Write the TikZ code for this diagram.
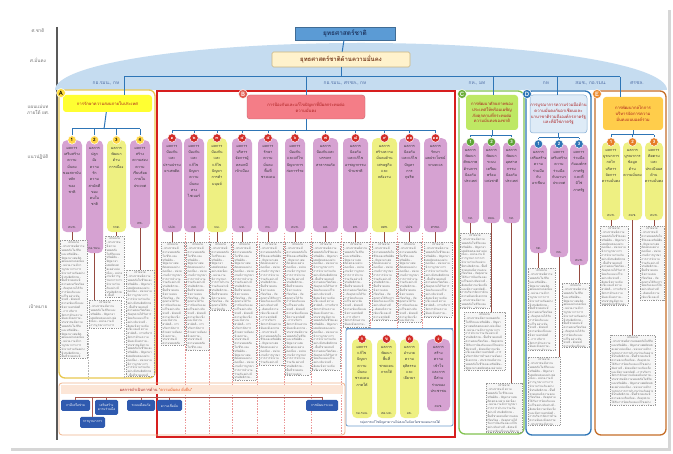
\documentclass[tikz,border=0pt]{standalone}
\usepackage{fontspec}
\newfontfamily\thai[Script=Thai]{Loma}
\XeTeXlinebreaklocale "th"
\XeTeXlinebreakskip=0pt plus 0.5pt
\usetikzlibrary{calc}
\definecolor{pinkc}{RGB}{214,162,210}
\definecolor{yelc}{RGB}{238,240,130}
\definecolor{lineblue}{RGB}{46,117,182}
\definecolor{domeblue}{RGB}{197,220,240}
\definecolor{topblue}{RGB}{91,155,213}
\definecolor{titlec}{RGB}{31,56,100}
\definecolor{creamc}{RGB}{255,242,204}
\definecolor{creamd}{RGB}{200,180,130}
\definecolor{sectxt}{RGB}{120,60,30}
\definecolor{Abord}{RGB}{232,200,80}
\definecolor{Ahead}{RGB}{255,255,50}
\definecolor{Bred}{RGB}{215,30,30}
\definecolor{Bhead}{RGB}{244,125,135}
\definecolor{Cgreen}{RGB}{130,195,80}
\definecolor{Chead}{RGB}{190,232,100}
\definecolor{Dblue}{RGB}{46,117,182}
\definecolor{Dhead}{RGB}{222,235,247}
\definecolor{Eorange}{RGB}{197,110,40}
\definecolor{Ehead}{RGB}{255,205,75}
\definecolor{labA}{RGB}{255,220,60}
\definecolor{labB}{RGB}{225,90,80}
\definecolor{labC}{RGB}{110,175,60}
\definecolor{labD}{RGB}{46,117,182}
\definecolor{labE}{RGB}{235,140,50}
\definecolor{numA}{RGB}{255,215,70}
\definecolor{numB}{RGB}{210,45,40}
\definecolor{numC}{RGB}{95,165,55}
\definecolor{numD}{RGB}{46,117,182}
\definecolor{numE}{RGB}{230,125,40}
\definecolor{hdrtxt}{RGB}{170,30,30}
\definecolor{tgtfill}{RGB}{246,246,246}
\definecolor{tlc}{RGB}{150,75,65}
\definecolor{sepred}{RGB}{235,150,150}
\definecolor{dlabc}{RGB}{80,110,165}
\definecolor{bandc}{RGB}{240,180,140}
\definecolor{bandf}{RGB}{252,230,215}
\definecolor{bandq}{RGB}{230,80,20}
\definecolor{navyc}{RGB}{47,90,175}
\definecolor{bandl}{RGB}{170,90,80}
\newcommand{\thfiller}{- ประชาชนมีความปลอดภัยในชีวิตและทรัพย์สิน - ปัญหายาเสพติดลดลงอย่างต่อเนื่อง - หน่วยงานมีการบูรณาการการทำงานร่วมกันอย่างมีประสิทธิภาพ - พื้นที่ชายแดนมีความสงบเรียบร้อย - ภัยคุกคามได้รับการป้องกันและแก้ไขอย่างทันท่วงที - สังคมมีความเข้มแข็งและมีความสามัคคี - การบริหารจัดการด้านความมั่นคงมีเอกภาพ }
% generic box by corners: name,x1,y1,x2,y2,style,text
\newcommand{\mybx}[7]{\pgfmathsetmacro\mbw{#4-#2}\pgfmathsetmacro\mbh{#5-#3}\pgfmathsetmacro\mbx{(#2+#4)/2}\pgfmathsetmacro\mby{(#3+#5)/2}%
\node[#6, minimum width=\mbw pt, minimum height=\mbh pt] (#1) at (\mbx,\mby) {#7};}
% target box
\newcommand{\mytbx}[5]{\mybx{#1}{#2}{#3}{#4}{#5}{tgt}{}%
\pgfmathsetmacro\mtw{#4-#2-3}%
\begin{scope}\clip (#2,#3) rectangle (#4,#5);
\node[tgttxt, text width=\mtw pt, anchor=north] (#1t) at ([yshift=-1.5pt]#1.north) {\centering เป้าหมาย\par\raggedright\thfiller\thfiller\thfiller\thfiller};
\end{scope}}
% pill column: name,x1,x2,ytop,ybot,fill,num,text,agency
\newcommand{\mypill}[9]{\pgfmathsetmacro\mpw{#3-#2}\pgfmathsetmacro\mph{#5-#4}\pgfmathsetmacro\mpx{(#2+#3)/2}%
\node[pill, fill=#6, minimum width=\mpw pt, minimum height=\mph pt, anchor=north] (#1) at (\mpx,#4) {};
\node[ptxt, anchor=north] (#1t) at ([yshift=-7pt]#1.north) {#8};
\node[agtxt, anchor=south] (#1a) at ([yshift=4pt]#1.south) {#9};
\node[numc, fill=\ccol, text=\ctcol] (#1c) at (#1.north) {#7};}
\newcommand{\mylk}[2]{\draw[tline] (#1.south) -- (#1.south |- #2.north);}
\begin{document}
\begin{tikzpicture}[x=1pt,y=-1pt,
 every node/.style={font=\thai},
 conn/.style={draw=lineblue, line width=1pt},
 tline/.style={draw=tlc, line width=0.9pt},
 sep/.style={draw=sepred, dash pattern=on 1.5pt off 1.2pt, line width=0.5pt},
 pill/.style={rounded corners=5pt, inner sep=0pt},
 ptxt/.style={align=center, inner sep=0pt, text=black!80, font=\thai\fontsize{3.7}{6.3}\selectfont},
 agtxt/.style={align=center, inner sep=0pt, text=black!75, font=\thai\fontsize{3.4}{4}\selectfont},
 numc/.style={circle, inner sep=0pt, minimum size=8.5pt, draw=white, line width=0.5pt, font=\thai\fontsize{4.5}{5}\selectfont\bfseries},
 glab/.style={circle, inner sep=0pt, minimum size=9pt, draw=white, line width=0.5pt, font=\thai\fontsize{6}{6}\selectfont\bfseries},
 grp/.style={rounded corners=6pt, fill=white, line width=1.3pt},
 hdr/.style={rounded corners=3pt, align=center, inner sep=0pt, text=hdrtxt, font=\thai\fontsize{4.2}{5.8}\selectfont},
 tgt/.style={draw=black!40, dash pattern=on 1pt off 0.8pt, line width=0.35pt, fill=tgtfill, inner sep=0pt},
 tgttxt/.style={inner sep=0pt, text=black!60, font=\thai\fontsize{2.8}{3.8}\selectfont},
 lab/.style={text=black!55, align=center, font=\thai\fontsize{4.6}{6}\selectfont},
 dlab/.style={text=dlabc, font=\thai\fontsize{4.8}{6}\selectfont},
 navy/.style={fill=navyc, rounded corners=1.5pt, text=white, align=center, inner sep=0pt, font=\thai\fontsize{3.2}{4.2}\selectfont},
]
\useasboundingbox (0,0) rectangle (673,454);
\fill[white] (0,0) rectangle (673,454);
\fill[black!16] (11,10) rectangle (671,451);
\fill[white] (9,8) rectangle (668,448);
% axis and level labels
\coordinate (ax1) at (57,27); \coordinate (ax2) at (57,440);
\draw[draw=black!65, line width=1.3pt] (ax1) -- (ax2);
\node[lab] (l1) at (38,31) {ศ.ชาติ};
\node[lab] (l2) at (38,60) {ศ.มั่นคง};
\node[lab] (l3) at (38,110) {แผนแม่บท\\ภายใต้ ยศ.};
\node[lab] (l4) at (38,157) {แนวปฏิบัติ};
\node[lab] (l5) at (38,307) {เป้าหมาย};
% dome
\fill[domeblue] (55,90) arc[start angle=180, end angle=0, x radius=306pt, y radius=47pt] -- cycle;
% top boxes
\mybx{ns}{295}{27}{395}{40}{fill=topblue, draw=topblue!70!black, line width=0.5pt, text=titlec, inner sep=0pt, font=\thai\fontsize{6.5}{7}\selectfont\bfseries}{ยุทธศาสตร์ชาติ}
\mybx{sec}{272}{52}{410}{67}{fill=creamc, draw=creamd, line width=0.6pt, rounded corners=1.5pt, text=sectxt, inner sep=0pt, font=\thai\fontsize{6}{7}\selectfont\bfseries}{ยุทธศาสตร์ชาติด้านความมั่นคง}
\coordinate (jL) at (124,77); \coordinate (jR) at (620,77);
\coordinate (jB) at (306,77); \coordinate (jC) at (493,77); \coordinate (jD) at (557,77);
\draw[conn] (ns) -- (sec);
\draw[conn] (sec) -- (sec |- jL);
\draw[conn] (jL) -- (jR);
% dome labels
\node[dlab] (dA) at (106,83) {กอ.รมน., กห};
\node[dlab] (dB) at (345,83) {กอ.รมน., ศรชล., กห};
\node[dlab] (dC) at (477,83) {กห., มท};
\node[dlab] (dD) at (546,83) {กห};
\node[dlab] (dE1) at (591,83) {สมช., กอ.รมน.};
\node[dlab] (dE2) at (637,83) {ศรชล.};
% group frames
\mybx{Ag}{59}{90}{155}{378}{grp, draw=Abord}{}
\mybx{Bg}{157}{91}{455}{437}{draw=Bred, line width=1.8pt, fill=white}{}
\mybx{Cg}{459}{91}{524}{434}{grp, draw=Cgreen}{}
\mybx{Dg}{526}{91}{591}{435}{grp, draw=Dblue}{}
\mybx{Eg}{595}{91}{666}{435}{grp, draw=Eorange}{}
% headers
\mybx{Ahd}{63}{95}{152}{112}{hdr, fill=Ahead}{การรักษาความสงบภายในประเทศ}
\mybx{Bhd}{247}{95}{365}{119}{hdr, fill=Bhead, draw=Bhead!80!black, line width=0.4pt}{การป้องกันและแก้ไขปัญหาที่มีผลกระทบต่อ\\ความมั่นคง}
\mybx{Chd}{466}{95}{518}{130}{hdr, fill=Chead}{การพัฒนาศักยภาพของ\\ประเทศให้พร้อมเผชิญ\\ภัยคุกคามที่กระทบต่อ\\ความมั่นคงของชาติ}
\mybx{Dhd}{530}{95}{587}{133}{hdr, fill=Dhead, draw=Dblue!60, line width=0.5pt}{การบูรณาการความร่วมมือด้าน\\ความมั่นคงกับอาเซียนและ\\นานาชาติรวมถึงองค์กรภาครัฐ\\และที่มิใช่ภาครัฐ}
\mybx{Ehd}{603}{97}{663}{130}{hdr, fill=Ehead}{การพัฒนากลไกการ\\บริหารจัดการความ\\มั่นคงแบบองค์รวม}
% drops from the top line
\draw[conn] (jL) -- (jL |- Ahd.north);
\draw[conn] (jB) -- (jB |- Bhd.north);
\draw[conn] (jC) -- (jC |- Chd.north);
\draw[conn] (jD) -- (jD |- Dhd.north);
\draw[conn] (jR) -- (jR |- Ehd.north);
% group labels
\node[glab, fill=labA, text=black] (LA) at (61,93) {A};
\node[glab, fill=labB, text=white] (LB) at (243,94) {B};
\node[glab, fill=labC, text=white] (LC) at (462,94) {C};
\node[glab, fill=labD, text=white] (LD) at (527,94) {D};
\node[glab, fill=labE, text=white] (LE) at (597,94) {E};
% ---------- A columns
\def\ccol{numA}\def\ctcol{black}
\mypill{A1}{62}{82}{140}{232}{pinkc}{1}{ผลการ\\เสริมสร้าง\\ความ\\มั่นคง\\ของสถาบัน\\หลัก\\ของ\\ชาติ}{สมช.}
\mypill{A2}{86}{103}{140}{253}{pinkc}{2}{ผลการ\\ปลูก\\ฝัง\\ความ\\รัก\\ความ\\สามัคคี\\ของ\\คนใน\\ชาติ}{กอ.รมน.}
\mypill{A3}{107}{126}{140}{232}{yelc}{3}{ผลการ\\พัฒนา\\ด้าน\\การเมือง}{กกต.}
\mypill{A4}{130}{150}{140}{228}{pinkc}{4}{ผลการ\\สร้าง\\ความสงบ\\ความ\\เรียบร้อย\\ภายใน\\ประเทศ}{ตช.}
\coordinate (Ajy) at (104,129);
\draw[conn] (Ahd) -- (Ajy);
\draw[conn] (A1c |- Ajy) -- (A4c |- Ajy);
\foreach \n in {1,...,4} \draw[conn] (A\n c |- Ajy) -- (A\n c.north);
% ---------- B columns
\def\ccol{numB}\def\ctcol{white}
\mypill{B1}{162}{182}{138}{232}{pinkc}{๑}{ผลการ\\ป้องกัน\\และ\\ปราบปราม\\ยาเสพติด}{ปปส.}
\mypill{B2}{184}{204}{138}{232}{pinkc}{๒}{ผลการ\\ป้องกัน\\และ\\แก้ไข\\ปัญหา\\ความ\\มั่นคง\\ทาง\\ไซเบอร์}{ดศ.}
\mypill{B3}{207}{227}{138}{232}{yelc}{๓}{ผลการ\\ป้องกัน\\และ\\แก้ไข\\ปัญหา\\การค้า\\มนุษย์}{พม.}
\mypill{B4}{232}{252}{138}{232}{pinkc}{๔}{ผลการ\\บริหาร\\จัดการผู้\\หลบหนี\\เข้าเมือง}{มท.}
\mypill{B5}{258}{278}{138}{232}{pinkc}{๕}{ผลการ\\รักษา\\ความ\\มั่นคง\\พื้นที่\\ชายแดน}{กห.}
\mypill{B6}{285}{305}{138}{232}{pinkc}{๖}{ผลการ\\ป้องกัน\\และแก้ไข\\ปัญหาการ\\ก่อการร้าย}{สมช.}
\mypill{B7}{313}{338}{138}{232}{pinkc}{๗}{ผลการ\\ป้องกันและ\\บรรเทา\\สาธารณภัย}{มท.}
\mypill{B8}{343}{368}{138}{232}{pinkc}{๘}{ผลการ\\ป้องกัน\\และแก้ไข\\อาชญากรรม\\ข้ามชาติ}{ตช.}
\mypill{B9}{372}{397}{138}{232}{yelc}{๙}{ผลการ\\สร้างความ\\มั่นคงด้าน\\เศรษฐกิจ\\และ\\พลังงาน}{สศช.}
\mypill{B10}{399}{420}{138}{232}{pinkc}{๑๐}{ผลการ\\ป้องกัน\\และแก้ไข\\ปัญหา\\การ\\ทุจริต}{ปปช.}
\mypill{B11}{424}{447}{138}{232}{pinkc}{๑๑}{ผลการ\\รักษา\\ผลประโยชน์\\ทางทะเล}{ศรชล.}
\coordinate (Bjy) at (306,131);
\draw[conn] (Bhd) -- (Bjy);
\draw[conn] (B1c |- Bjy) -- (B11c |- Bjy);
\foreach \n in {1,...,11} \draw[conn] (B\n c |- Bjy) -- (B\n c.north);
% B separators
\coordinate (sLow) at (0,435); \coordinate (sMid) at (0,329);
\foreach \sx in {185,209.5,232,257.5,284,311,341.5} {\coordinate (s1) at (\sx,233); \draw[sep] (s1) -- (s1 |- sLow);}
\foreach \sx in {370.5,397,422.5} {\coordinate (s2) at (\sx,233); \draw[sep] (s2) -- (s2 |- sMid);}
% A separators
\coordinate (as1) at (88,330); \coordinate (as2) at (124.5,298);
\draw[draw=black!30, dash pattern=on 1.5pt off 1.2pt, line width=0.4pt] (as1) -- (as1 |- Ag.south);
\draw[draw=black!30, dash pattern=on 1.5pt off 1.2pt, line width=0.4pt] (as2) -- (as2 |- Ag.south);
% B sub-box
\mybx{Bs}{346}{329}{453}{426}{draw=Dblue!70, line width=0.8pt, rounded corners=2pt, fill=white}{}
\draw[draw=Dblue!70, line width=1.6pt] (Bs.north west) -- (Bs.north east);
\mypill{S1}{352}{372}{339}{418}{yelc}{ก}{ผลการ\\แก้ไข\\ปัญหา\\ความ\\มั่นคง\\ชายแดน\\ภาคใต้}{กอ.รมน.}
\mypill{S2}{377}{396}{339}{418}{yelc}{ข}{ผลการ\\พัฒนา\\พื้นที่\\ชายแดน\\ภาคใต้}{ศอ.บต.}
\mypill{S3}{400}{419}{339}{418}{yelc}{ค}{ผลการ\\อำนวย\\ความ\\ยุติธรรม\\และ\\เยียวยา}{ยธ.}
\mypill{S4}{427}{450}{339}{411}{pinkc}{ง}{ผลการ\\สร้าง\\ความ\\เข้าใจ\\และการ\\มีส่วน\\ร่วมของ\\ประชาชน}{สมช.}
\node[font=\thai\fontsize{3.2}{4}\selectfont, text=titlec, inner sep=0pt] (Bsl) at (400,422.5) {กลุ่มการแก้ไขปัญหาความไม่สงบในจังหวัดชายแดนภาคใต้};
% ---------- C columns
\def\ccol{numC}\def\ctcol{white}
\mypill{C1}{462}{479}{142}{223}{pinkc}{1}{ผลการ\\พัฒนา\\ศักยภาพ\\ด้านการ\\ป้องกัน\\ประเทศ}{กห.}
\mypill{C2}{483}{500}{142}{223}{pinkc}{2}{ผลการ\\พัฒนา\\ระบบ\\เตรียม\\พร้อม\\แห่งชาติ}{สลน.}
\mypill{C3}{503}{520}{142}{223}{pinkc}{3}{ผลการ\\พัฒนา\\อุตสาห\\กรรม\\ป้องกัน\\ประเทศ}{กห.}
\coordinate (Cjy) at (492,135.5);
\draw[conn] (Chd) -- (Cjy);
\draw[conn] (C1c |- Cjy) -- (C3c |- Cjy);
\foreach \n in {1,...,3} \draw[conn] (C\n c |- Cjy) -- (C\n c.north);
% ---------- D columns
\def\ccol{numD}\def\ctcol{white}
\mypill{D1}{530}{547}{144}{253}{pinkc}{1}{ผลการ\\เสริมสร้าง\\ความ\\ร่วมมือ\\กับ\\อาเซียน}{กต.}
\mypill{D2}{550}{568}{144}{257}{pinkc}{2}{ผลการ\\เสริมสร้าง\\ความ\\ร่วมมือ\\กับนานา\\ประเทศ}{กต.}
\mypill{D3}{570}{588}{144}{265}{pinkc}{3}{ผลการ\\ร่วมมือ\\กับองค์กร\\ภาครัฐ\\และที่\\มิใช่\\ภาครัฐ}{สมช.}
\coordinate (Djy) at (558.5,138);
\draw[conn] (Dhd) -- (Djy);
\draw[conn] (D1c |- Djy) -- (D3c |- Djy);
\foreach \n in {1,...,3} \draw[conn] (D\n c |- Djy) -- (D\n c.north);
% ---------- E columns
\def\ccol{numE}\def\ctcol{white}
\mypill{E1}{602}{620}{142}{220}{yelc}{1}{ผลการ\\บูรณาการ\\กลไก\\บริหาร\\จัดการ\\ความมั่นคง}{สมช.}
\mypill{E2}{623}{642}{142}{220}{yelc}{2}{ผลการ\\บูรณาการ\\ข้อมูล\\ด้าน\\ความมั่นคง}{สมช.}
\mypill{E3}{645}{663}{142}{220}{yelc}{3}{ผลการ\\ติดตาม\\และ\\ประเมินผล\\ด้าน\\ความมั่นคง}{สมช.}
\coordinate (Ejy) at (633,135);
\draw[conn] (Ehd) -- (Ejy);
\draw[conn] (E1c |- Ejy) -- (E3c |- Ejy);
\foreach \n in {1,...,3} \draw[conn] (E\n c |- Ejy) -- (E\n c.north);
% ---------- target boxes
\mytbx{tA1}{60}{240}{87}{358}
\mytbx{tA2}{89}{300}{121}{328}
\mytbx{tA3}{105}{236}{124}{297}
\mytbx{tA4}{126}{270}{154}{376}
\mytbx{tB1}{161}{242}{184}{345}
\mytbx{tB2}{186}{242}{209}{350}
\mytbx{tB3}{210}{242}{231}{310}
\mytbx{tB4}{233}{242}{256}{380}
\mytbx{tB5}{259}{242}{283}{365}
\mytbx{tB6}{285}{242}{310}{375}
\mytbx{tB7}{312}{242}{340}{370}
\mytbx{tB8}{343}{242}{369}{327}
\mytbx{tB9}{372}{242}{396}{320}
\mytbx{tB10}{398}{242}{421}{322}
\mytbx{tB11}{424}{242}{452}{317}
\mytbx{tC1}{460}{233}{490}{308}
\mytbx{tC2}{464}{312}{505}{370}
\mytbx{tC3}{486}{383}{522}{432}
\mytbx{tD1}{528}{268}{555}{350}
\mytbx{tD2}{562}{283}{589}{347}
\mytbx{tD3}{528}{357}{560}{425}
\mytbx{tE1}{600}{226}{628}{305}
\mytbx{tE2}{640}{226}{664}{300}
\mytbx{tE3}{610}{335}{655}{405}
% links column -> target
\mylk{A1}{tA1}\mylk{A2}{tA2}\mylk{A3}{tA3}\mylk{A4}{tA4}
\foreach \n in {1,...,11} {\mylk{B\n}{tB\n}}
\mylk{C1}{tC1}\mylk{C2}{tC2}\mylk{C3}{tC3}
\mylk{D1}{tD1}\mylk{D2}{tD3}\mylk{D3}{tD2}
\mylk{E1}{tE1}\mylk{E2}{tE3}\mylk{E3}{tE2}
% ---------- bottom band
\mybx{band}{59}{383}{345}{435}{draw=bandc, line width=0.8pt, rounded corners=3pt}{}
\mybx{bandh}{61}{385}{343}{394}{fill=bandf}{}
\node[font=\thai\fontsize{4}{5}\selectfont, text=hdrtxt, inner sep=0pt] (bandt) at (156,389.5) {ผลการดำเนินการด้าน \textcolor{bandq}{"ความมั่นคง ยั่งยืน"}};
\coordinate (bj1) at (76,397); \coordinate (bj2) at (322,397);
\draw[draw=bandl, line width=0.6pt] (bj1) -- (bj2);
\mybx{bb1}{61}{400}{90}{411}{navy}{ภาคีเครือข่าย}
\mybx{bb2}{95}{400}{118}{415}{navy}{เสริมสร้าง\\ความร่วมมือ}
\mybx{bb3}{80}{417}{105}{428}{navy}{การบูรณาการ}
\mybx{bb4}{127}{400}{155}{411}{navy}{ระบบเตือนภัย}
\mybx{bb5}{157}{400}{182}{411}{navy}{ความเชื่อมั่น}
\mybx{bb6}{306}{400}{338}{411}{navy}{การพัฒนาระบบ}
\foreach \b in {bb1,bb2,bb3,bb4,bb5,bb6} \draw[draw=bandl, line width=0.6pt] (\b.north |- bj1) -- (\b.north);
\end{tikzpicture}
\end{document}
